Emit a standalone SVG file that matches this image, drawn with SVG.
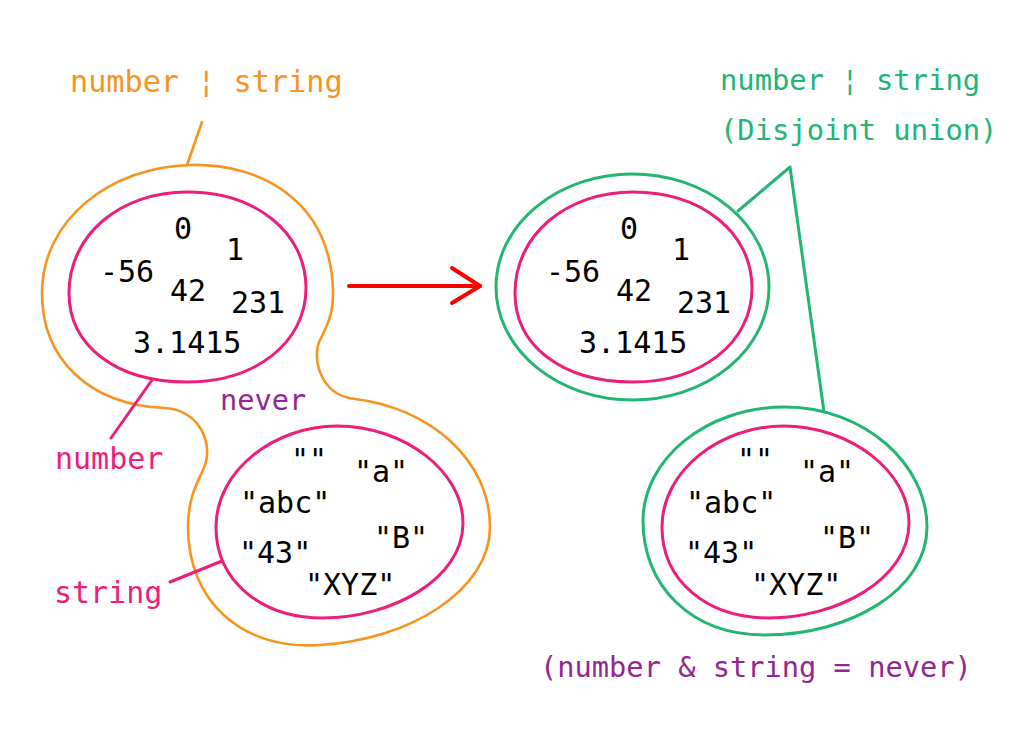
<svg xmlns="http://www.w3.org/2000/svg" width="1033" height="730" viewBox="0 0 1033 730">
<style>
text{font-family:"DejaVu Sans Mono","Liberation Mono",monospace;}
.v{font-size:30px;fill:#000;}
.or{stroke:#F7931E;stroke-width:2.6;fill:none;}
.pk{stroke:#ED1E79;stroke-width:3;fill:none;}
.gr{stroke:#22B573;stroke-width:3;fill:none;}
.lor{fill:#F7931E;font-size:30.2px;}
.lpk{fill:#ED1E79;font-size:30px;}
.lgr{fill:#22B573;font-size:28.8px;}
.lpu{fill:#93278F;font-size:28.7px;}
</style>
<rect width="1033" height="730" fill="#fff"/>
<g id="union-left">
<path class="or" d="M190,165 C260,163 330,200 333,290 C334,315 325,330 320,340 C312,355 318,395 355,399 C430,408 490,460 490,527 C490,590 410,640 320,645 C240,650 188,600 188,527 C188,500 196,485 203,470 C215,445 200,410 165,408 C90,405 42,360 42,293 C42,220 110,167 190,165 Z"/>
<text class="lor" x="70" y="92">number ¦ string</text>
</g>
<g id="number-left">
<path class="pk" d="M187,192 C255,192 306,232 306,288 C306,343 255,382 187,382 C115,382 69,345 69,293 C69,235 120,192 187,192 Z"/>
<text class="v" x="174" y="239">0</text>
<text class="v" x="226" y="260">1</text>
<text class="v" x="100" y="282">-56</text>
<text class="v" x="170" y="301">42</text>
<text class="v" x="231" y="313">231</text>
<text class="v" x="133" y="353">3.1415</text>
<text class="lpk" x="55" y="469">number</text>
</g>
<g id="string-left">
<path class="pk" d="M337,426 C405,426 463,472 463,523 C463,580 390,618 323,618 C260,618 216,580 216,527 C216,470 275,426 337,426 Z"/>
<text class="v" x="291" y="470">""</text>
<text class="v" x="354" y="482">"a"</text>
<text class="v" x="240" y="513">"abc"</text>
<text class="v" x="374" y="548">"B"</text>
<text class="v" x="239" y="563">"43"</text>
<text class="v" x="305" y="595">"XYZ"</text>
<text class="lpk" x="54" y="603">string</text>
</g>
<g id="never-label">
<text class="lpu" x="220" y="410">never</text>
</g>
<g id="number-right">
<ellipse class="gr" cx="632.5" cy="287" rx="136.5" ry="113"/>
<path class="pk" d="M633,192 C701,192 752,232 752,288 C752,343 701,382 633,382 C561,382 515,345 515,293 C515,235 566,192 633,192 Z"/>
<text class="v" x="620" y="239">0</text>
<text class="v" x="672" y="260">1</text>
<text class="v" x="546" y="282">-56</text>
<text class="v" x="616" y="301">42</text>
<text class="v" x="677" y="313">231</text>
<text class="v" x="579" y="353">3.1415</text>
</g>
<g id="string-right">
<path class="gr" d="M785,407 C865,407 927,465 927,527 C927,590 850,635 765,635 C690,635 643,585 643,521 C643,460 705,407 785,407 Z"/>
<path class="pk" d="M783,426 C851,426 909,472 909,523 C909,580 836,618 769,618 C706,618 662,580 662,527 C662,470 721,426 783,426 Z"/>
<text class="v" x="737" y="470">""</text>
<text class="v" x="800" y="482">"a"</text>
<text class="v" x="686" y="513">"abc"</text>
<text class="v" x="820" y="548">"B"</text>
<text class="v" x="685" y="563">"43"</text>
<text class="v" x="751" y="595">"XYZ"</text>
</g>
<g id="disjoint-label">
<text class="lgr" x="720" y="90">number ¦ string</text>
<text class="lgr" x="720" y="140">(Disjoint union)</text>
</g>
<g id="never-note">
<text class="lpu" x="540" y="677">(number &amp; string = never)</text>
</g>
<g id="connectors" stroke-linecap="round" stroke-linejoin="round" fill="none">
<line class="or" x1="202" y1="122" x2="187" y2="165"/>
<line class="pk" x1="152" y1="380" x2="111" y2="438"/>
<line class="pk" x1="222" y1="561" x2="170" y2="582"/>
<polyline class="gr" points="738,211 790,167 824,412"/>
<g stroke="#FF0000" stroke-width="4">
<line x1="349" y1="286" x2="480" y2="286"/>
<polyline points="452,268 480,286 452,303"/>
</g>
</g>
</svg>
